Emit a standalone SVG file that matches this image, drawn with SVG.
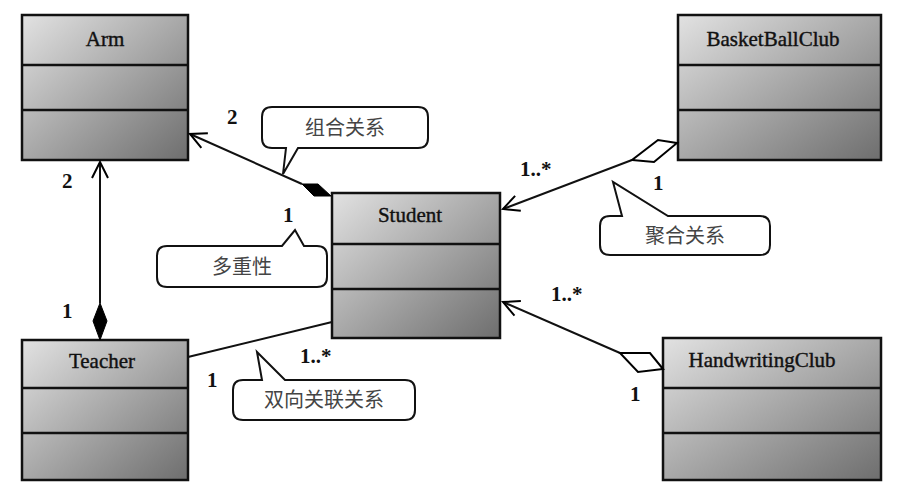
<svg xmlns="http://www.w3.org/2000/svg" width="900" height="492" viewBox="0 0 900 492">
<defs>
<linearGradient id="g" x1="0" y1="0" x2="1" y2="1">
<stop offset="0" stop-color="#e2e2e2"/><stop offset="0.5" stop-color="#a8a8a8"/><stop offset="1" stop-color="#6e6e6e"/>
</linearGradient>
<marker id="open" viewBox="0 0 20 20" refX="18" refY="10" markerWidth="20" markerHeight="20" markerUnits="userSpaceOnUse" orient="auto"><path d="M2,2 L18,10 L2,18" fill="none" stroke="#000" stroke-width="2"/></marker>
</defs>
<style>
.box{fill:url(#g);stroke:#111;stroke-width:2.5}
.div{stroke:#111;stroke-width:2.5}
.cn{font-family:"Liberation Serif",serif;font-size:21px;fill:#111;text-anchor:middle;stroke:#111;stroke-width:0.4}
.lb{font-family:"Liberation Serif",serif;font-weight:bold;font-size:21px;fill:#111}
.co{fill:#fff;stroke:#111;stroke-width:2}
.ct{font-family:"Noto Sans CJK SC",sans-serif;font-size:20px;fill:#444;text-anchor:middle}
.ln{stroke:#111;stroke-width:2;fill:none}
</style>
<rect width="900" height="492" fill="#fff"/>
<g id="Arm"><rect class="box" x="22" y="15" width="166" height="145"/><line class="div" x1="22" y1="65" x2="188" y2="65"/><line class="div" x1="22" y1="110" x2="188" y2="110"/><text class="cn" x="105" y="46">Arm</text></g>
<g id="BasketBallClub"><rect class="box" x="678" y="15" width="203" height="145"/><line class="div" x1="678" y1="65" x2="881" y2="65"/><line class="div" x1="678" y1="110" x2="881" y2="110"/><text class="cn" x="773" y="46">BasketBallClub</text></g>
<g id="Student"><rect class="box" x="332" y="193" width="168" height="145"/><line class="div" x1="332" y1="244" x2="500" y2="244"/><line class="div" x1="332" y1="289" x2="500" y2="289"/><text class="cn" x="410" y="222">Student</text></g>
<g id="Teacher"><rect class="box" x="22" y="340" width="166" height="140"/><line class="div" x1="22" y1="388" x2="188" y2="388"/><line class="div" x1="22" y1="433" x2="188" y2="433"/><text class="cn" x="102" y="368">Teacher</text></g>
<g id="HandwritingClub"><rect class="box" x="663" y="338" width="218" height="142"/><line class="div" x1="663" y1="388" x2="881" y2="388"/><line class="div" x1="663" y1="433" x2="881" y2="433"/><text class="cn" x="762" y="367">HandwritingClub</text></g>
<g id="connectors">
<line class="ln" x1="302" y1="184" x2="190" y2="134" marker-end="url(#open)"/>
<path d="M331,196 L318,184 L302,184 L314,196 Z" fill="#000" stroke="#000"/>
<line class="ln" x1="100" y1="303" x2="100" y2="162" marker-end="url(#open)"/>
<path d="M100,340 L93,321 L100,303 L107,321 Z" fill="#000" stroke="#000"/>
<line class="ln" x1="632" y1="160" x2="503" y2="209" marker-end="url(#open)"/>
<path d="M677,143 L658,140 L632,160 L654,162 Z" fill="#fff" stroke="#000" stroke-width="2"/>
<line class="ln" x1="620" y1="353" x2="503" y2="302" marker-end="url(#open)"/>
<path d="M663,369 L650,353 L620,353 L638,372 Z" fill="#fff" stroke="#000" stroke-width="2"/>
<line class="ln" x1="188" y1="357" x2="332" y2="322"/>
</g>
<g id="labels">
<text class="lb" x="227" y="124">2</text>
<text class="lb" x="62" y="188">2</text>
<text class="lb" x="62" y="318">1</text>
<text class="lb" x="283" y="222">1</text>
<text class="lb" x="520" y="176">1..*</text>
<text class="lb" x="653" y="190">1</text>
<text class="lb" x="551" y="301">1..*</text>
<text class="lb" x="630" y="401">1</text>
<text class="lb" x="300" y="363">1..*</text>
<text class="lb" x="207" y="387">1</text>
</g>
<g id="callout1"><path class="co" d="M272,107 H418 Q428,107 428,117 V138 Q428,148 418,148 H298 L283,174 L286,148 H272 Q262,148 262,138 V117 Q262,107 272,107 Z"/><text class="ct" x="345" y="135">组合关系</text></g>
<g id="callout2"><path class="co" d="M167,246 H282 L295,230 L304,246 H317 Q327,246 327,256 V277 Q327,287 317,287 H167 Q157,287 157,277 V256 Q157,246 167,246 Z"/><text class="ct" x="242" y="274">多重性</text></g>
<g id="callout3"><path class="co" d="M610,216 H622 L613,182 L668,216 H760 Q770,216 770,226 V245 Q770,255 760,255 H610 Q600,255 600,245 V226 Q600,216 610,216 Z"/><text class="ct" x="685" y="243">聚合关系</text></g>
<g id="callout4"><path class="co" d="M243,380 H262 L257,352 L285,380 H405 Q415,380 415,390 V410 Q415,420 405,420 H243 Q233,420 233,410 V390 Q233,380 243,380 Z"/><text class="ct" x="324" y="407">双向关联关系</text></g>
</svg>
